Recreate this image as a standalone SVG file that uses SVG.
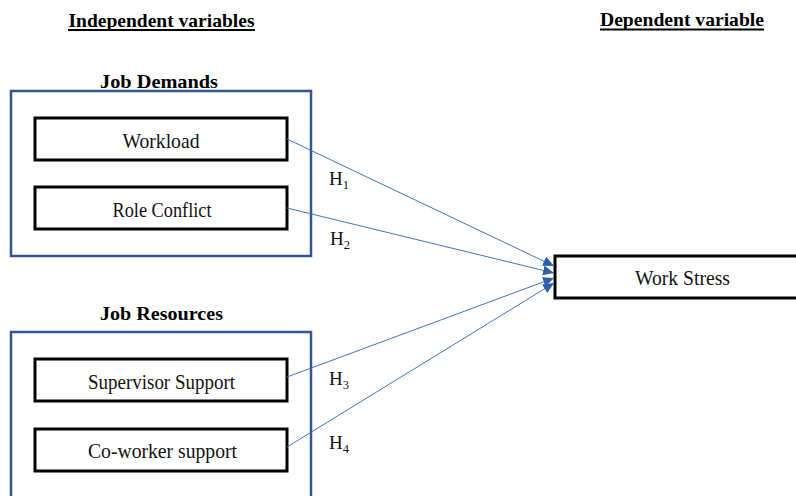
<svg xmlns="http://www.w3.org/2000/svg" width="796" height="496" viewBox="0 0 796 496">
  <style>
    .hdr { font-family: "Liberation Serif", "Times New Roman", serif; font-weight: bold; font-size: 19.5px; fill: #000; text-anchor: middle; }
    .lbl { font-family: "Liberation Serif", "Times New Roman", serif; font-size: 21px; fill: #111; text-anchor: middle; }
    .h { font-family: "Liberation Serif", "Times New Roman", serif; font-size: 19px; fill: #111; }
    .h tspan { font-size: 12.5px; }
    .group { fill: none; stroke: #2F5597; stroke-width: 2.5; }
    .node { fill: #fff; stroke: #000; stroke-width: 3; }
    .conn { stroke: #4472C4; stroke-width: 1; fill: none; }
    .ul { stroke: #000; stroke-width: 2; }
  </style>
  <defs>
    <marker id="arr" markerUnits="userSpaceOnUse" markerWidth="12" markerHeight="10" refX="11" refY="5" orient="auto">
      <path d="M0,0 L11,5 L0,10 Z" fill="#2F5EA8"/>
    </marker>
  </defs>
  <rect width="796" height="496" fill="#fff"/>

  <g id="headers">
    <text class="hdr" x="161.5" y="27" textLength="186" lengthAdjust="spacingAndGlyphs">Independent variables</text>
    <line class="ul" x1="68" y1="30" x2="255" y2="30"/>
    <text class="hdr" x="682" y="26" textLength="164" lengthAdjust="spacingAndGlyphs">Dependent variable</text>
    <line class="ul" x1="600" y1="29.5" x2="764" y2="29.5"/>
  </g>

  <g id="job-demands">
    <text class="hdr" x="159" y="88" textLength="118" lengthAdjust="spacingAndGlyphs">Job Demands</text>
    <rect class="group" x="11" y="91" width="300" height="165"/>
  </g>
  <g id="workload">
    <rect class="node" x="35" y="118" width="252" height="42"/>
    <text class="lbl" x="161" y="148" textLength="77" lengthAdjust="spacingAndGlyphs">Workload</text>
  </g>
  <g id="role-conflict">
    <rect class="node" x="35" y="187" width="252" height="42"/>
    <text class="lbl" x="162" y="217" textLength="99" lengthAdjust="spacingAndGlyphs">Role Conflict</text>
  </g>

  <g id="job-resources">
    <text class="hdr" x="161.5" y="320" textLength="123" lengthAdjust="spacingAndGlyphs">Job Resources</text>
    <rect class="group" x="11" y="332" width="300" height="200"/>
  </g>
  <g id="supervisor-support">
    <rect class="node" x="35" y="359" width="252" height="42"/>
    <text class="lbl" x="161.5" y="389" textLength="147" lengthAdjust="spacingAndGlyphs">Supervisor Support</text>
  </g>
  <g id="coworker-support">
    <rect class="node" x="35" y="429" width="252" height="42"/>
    <text class="lbl" x="162.5" y="458" textLength="149" lengthAdjust="spacingAndGlyphs">Co-worker support</text>
  </g>

  <g id="work-stress">
    <rect class="node" x="555" y="256" width="260" height="42"/>
    <text class="lbl" x="682.5" y="285" textLength="95" lengthAdjust="spacingAndGlyphs">Work Stress</text>
  </g>

  <g id="connectors">
    <line class="conn" x1="287" y1="139" x2="554" y2="266" marker-end="url(#arr)"/>
    <line class="conn" x1="287" y1="208" x2="554" y2="273" marker-end="url(#arr)"/>
    <line class="conn" x1="287" y1="377" x2="554" y2="278" marker-end="url(#arr)"/>
    <line class="conn" x1="287" y1="447" x2="554" y2="283" marker-end="url(#arr)"/>
  </g>

  <g id="labels">
    <text class="h" x="329" y="185">H<tspan dy="4">1</tspan></text>
    <text class="h" x="330" y="245">H<tspan dy="4">2</tspan></text>
    <text class="h" x="329" y="385">H<tspan dy="4">3</tspan></text>
    <text class="h" x="329" y="449">H<tspan dy="4">4</tspan></text>
  </g>
</svg>
